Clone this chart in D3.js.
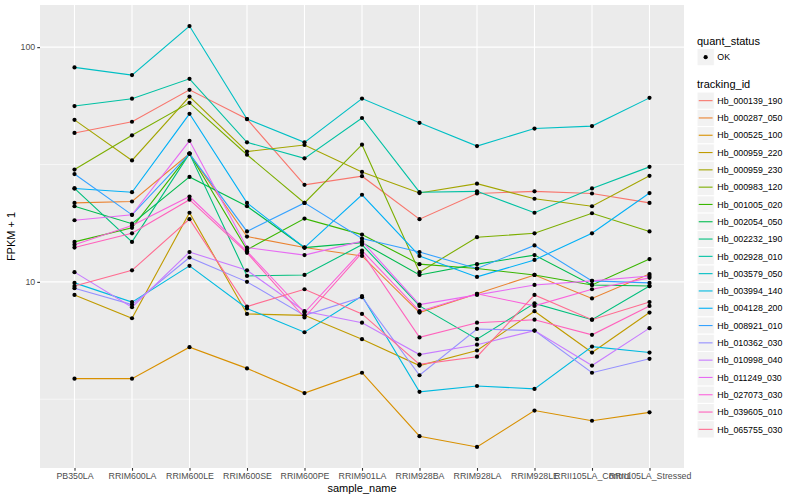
<!DOCTYPE html>
<html>
<head>
<meta charset="utf-8">
<script src="https://cdn.jsdelivr.net/npm/d3@7"></script>
<style>
  body { margin: 0; background: #fff; }
  text { font-family: "Liberation Sans", Arial, Helvetica, sans-serif; }
</style>
</head>
<body>
<script>
// samples on the x axis
var samples = ["PB350LA", "RRIM600LA", "RRIM600LE", "RRIM600SE", "RRIM600PE", "RRIM901LA",
               "RRIM928BA", "RRIM928LA", "RRIM928LE", "RRII105LA_Control", "RRII105LA_Stressed"];

// genes (legend order) and their ggplot hue colours
var trackingIds = ["Hb_000139_190", "Hb_000287_050", "Hb_000525_100", "Hb_000959_220", "Hb_000959_230",
                   "Hb_000983_120", "Hb_001005_020", "Hb_002054_050", "Hb_002232_190", "Hb_002928_010",
                   "Hb_003579_050", "Hb_003994_140", "Hb_004128_200", "Hb_008921_010", "Hb_010362_030",
                   "Hb_010998_040", "Hb_011249_030", "Hb_027073_030", "Hb_039605_010", "Hb_065755_030"];
var colors = ["#F8766D", "#EA8331", "#D89000", "#C09B00", "#A3A500", "#7CAE00", "#39B600", "#00BB4E",
              "#00BF7D", "#00C1A3", "#00BFC4", "#00BAE0", "#00B0F6", "#35A2FF", "#9590FF", "#C77CFF",
              "#E76BF3", "#FA62DB", "#FF62BC", "#FF6C91"];

// FPKM + 1, one value per sample
var hb_000139_190 = [43.1, 48.1, 65.8, 49.4, 25.9, 28.2, 18.5, 23.8, 24.3, 23.8, 21.7];
var hb_000287_050 = [21.7, 22.0, 35.2, 15.6, 14.0, 12.9, 7.4, 8.9, 10.7, 8.5, 10.8];
var hb_000525_100 = [3.87, 3.87, 5.27, 4.28, 3.36, 4.1, 2.2, 1.98, 2.83, 2.56, 2.78];
var hb_000959_220 = [8.8, 7.0, 19.7, 7.3, 7.2, 5.7, 4.4, 5.1, 7.5, 5.0, 7.4];
var hb_000959_230 = [49.0, 32.9, 61.6, 35.9, 38.3, 29.4, 23.9, 26.2, 22.6, 21.0, 28.3];
var hb_000983_120 = [30.1, 42.1, 57.9, 34.8, 21.7, 38.4, 11.0, 15.5, 16.1, 19.6, 16.4];
var hb_001005_020 = [14.8, 17.0, 35.2, 13.7, 18.6, 15.9, 11.9, 11.4, 10.7, 9.7, 12.5];
var hb_002054_050 = [21.0, 17.7, 28.0, 21.0, 14.0, 14.7, 10.7, 11.9, 13.0, 9.7, 9.6];
var hb_002232_190 = [25.0, 14.8, 35.2, 10.6, 10.7, 14.4, 7.9, 5.7, 8.1, 6.9, 9.6];
var hb_002928_010 = [56.1, 60.3, 73.3, 39.3, 33.6, 49.9, 24.1, 24.3, 19.7, 25.0, 30.9];
var hb_003579_050 = [82.0, 76.0, 123.0, 49.4, 39.3, 60.4, 47.6, 37.9, 45.0, 46.1, 60.8];
var hb_003994_140 = [9.9, 8.2, 11.7, 7.7, 6.1, 8.7, 3.4, 3.6, 3.5, 5.3, 5.0];
var hb_004128_200 = [25.0, 24.1, 52.0, 21.7, 14.0, 23.5, 12.9, 10.5, 12.4, 16.1, 23.9];
var hb_008921_010 = [28.8, 19.3, 35.2, 16.4, 21.7, 15.3, 13.4, 11.4, 14.3, 10.1, 9.9];
var hb_010362_030 = [9.4, 8.0, 12.7, 10.0, 7.2, 8.6, 4.0, 6.3, 6.2, 4.1, 4.7];
var hb_010998_040 = [11.0, 7.8, 13.4, 11.2, 7.5, 6.7, 4.9, 5.4, 6.2, 4.4, 6.35];
var hb_011249_030 = [18.3, 19.3, 39.9, 14.0, 13.0, 14.9, 8.0, 8.8, 9.7, 10.1, 10.6];
var hb_027073_030 = [14.4, 17.4, 23.1, 13.5, 7.4, 13.6, 7.5, 8.9, 7.9, 9.3, 10.4];
var hb_039605_010 = [14.0, 16.1, 22.4, 13.3, 7.05, 13.3, 5.8, 6.7, 6.9, 5.95, 7.9];
var hb_065755_030 = [9.6, 11.2, 18.5, 7.85, 9.3, 7.3, 4.45, 4.8, 8.8, 6.9, 8.2];

var seriesValues = [hb_000139_190, hb_000287_050, hb_000525_100, hb_000959_220, hb_000959_230,
                    hb_000983_120, hb_001005_020, hb_002054_050, hb_002232_190, hb_002928_010,
                    hb_003579_050, hb_003994_140, hb_004128_200, hb_008921_010, hb_010362_030,
                    hb_010998_040, hb_011249_030, hb_027073_030, hb_039605_010, hb_065755_030];

var yTicks = [10, 100];
var yMinor = [Math.sqrt(10), Math.sqrt(1000)];

var w = 800, h = 500;
var pLeft = 40, pRight = 684, pTop = 5, pBottom = 468;

var series = trackingIds.map(function(id, i) {
  return { id: id, color: colors[i],
           values: seriesValues[i].map(function(v, j) { return { sample: samples[j], v: v }; }) };
});

// log scale with ggplot's 5% expansion
var all = [].concat.apply([], seriesValues);
var lo = Math.log10(d3.min(all)), hi = Math.log10(d3.max(all));
var pad = (hi - lo) * 0.05;
var y = d3.scaleLog().domain([Math.pow(10, lo - pad), Math.pow(10, hi + pad)]).range([pBottom, pTop]);
var x = d3.scalePoint().domain(samples).range([pLeft, pRight]).padding(0.6);

var svg = d3.select("body").append("svg").attr("width", w).attr("height", h);
svg.append("rect").attr("width", w).attr("height", h).attr("fill", "#fff");

// panel
svg.append("rect").attr("x", pLeft).attr("y", pTop)
  .attr("width", pRight - pLeft).attr("height", pBottom - pTop).attr("fill", "#EBEBEB");

svg.append("g").selectAll("line").data(yMinor).enter().append("line")
  .attr("x1", pLeft).attr("x2", pRight)
  .attr("y1", function(d) { return y(d); }).attr("y2", function(d) { return y(d); })
  .attr("stroke", "#fff").attr("stroke-width", 0.55);
svg.append("g").selectAll("line").data(yTicks).enter().append("line")
  .attr("x1", pLeft).attr("x2", pRight)
  .attr("y1", function(d) { return y(d); }).attr("y2", function(d) { return y(d); })
  .attr("stroke", "#fff").attr("stroke-width", 1.1);
svg.append("g").selectAll("line").data(samples).enter().append("line")
  .attr("y1", pTop).attr("y2", pBottom)
  .attr("x1", function(d) { return x(d); }).attr("x2", function(d) { return x(d); })
  .attr("stroke", "#fff").attr("stroke-width", 1.1);

// lines
var line = d3.line().x(function(d) { return x(d.sample); }).y(function(d) { return y(d.v); });
svg.append("g").selectAll("path").data(series).enter().append("path")
  .attr("d", function(d) { return line(d.values); })
  .attr("fill", "none").attr("stroke", function(d) { return d.color; }).attr("stroke-width", 1.1);

// points
svg.append("g").selectAll("g").data(series).enter().append("g")
  .selectAll("circle").data(function(d) { return d.values; }).enter().append("circle")
  .attr("cx", function(d) { return x(d.sample); }).attr("cy", function(d) { return y(d.v); })
  .attr("r", 2.1).attr("fill", "#000");

// axes
var yAxis = svg.append("g").attr("transform", "translate(" + pLeft + ",0)")
  .call(d3.axisLeft(y).tickValues(yTicks).tickFormat(d3.format("d")).tickSize(2.75).tickPadding(2));
var xAxis = svg.append("g").attr("transform", "translate(0," + pBottom + ")")
  .call(d3.axisBottom(x).tickSize(2.75).tickPadding(2));
[yAxis, xAxis].forEach(function(a) {
  a.select(".domain").remove();
  a.selectAll(".tick line").attr("stroke", "#333").attr("stroke-width", 1.1);
  a.selectAll(".tick text").attr("fill", "#4D4D4D").style("font-size", "8.8px")
    .style("font-family", "'Liberation Sans', Arial, sans-serif");
});

svg.append("text").attr("x", (pLeft + pRight) / 2).attr("y", 492).attr("text-anchor", "middle")
  .style("font-size", "11px").attr("fill", "#000").text("sample_name");
svg.append("text").attr("transform", "translate(15," + (pTop + pBottom) / 2 + ") rotate(-90)")
  .attr("text-anchor", "middle").style("font-size", "11px").attr("fill", "#000").text("FPKM + 1");

// legends
var lx = 697, key = 17.3;
var leg = svg.append("g");
leg.append("text").attr("x", lx).attr("y", 44.5).style("font-size", "11px").text("quant_status");
leg.append("rect").attr("x", lx).attr("y", 48.5).attr("width", key).attr("height", key)
  .attr("fill", "#F2F2F2").attr("stroke", "#fff");
leg.append("circle").attr("cx", lx + key / 2).attr("cy", 48.5 + key / 2).attr("r", 2.1).attr("fill", "#000");
leg.append("text").attr("x", lx + key + 3).attr("y", 48.5 + key / 2 + 3.2)
  .style("font-size", "8.8px").text("OK");

leg.append("text").attr("x", lx).attr("y", 88).style("font-size", "11px").text("tracking_id");
var items = leg.selectAll(".item").data(series).enter().append("g").attr("class", "item")
  .attr("transform", function(d, i) { return "translate(" + lx + "," + (92 + i * key) + ")"; });
items.append("rect").attr("width", key).attr("height", key).attr("fill", "#F2F2F2").attr("stroke", "#fff");
items.append("line").attr("x1", key * 0.1).attr("x2", key * 0.9)
  .attr("y1", key / 2).attr("y2", key / 2)
  .attr("stroke", function(d) { return d.color; }).attr("stroke-width", 1.1);
items.append("text").attr("x", key + 3).attr("y", key / 2 + 3.2)
  .style("font-size", "8.8px").text(function(d) { return d.id; });
</script>
</body>
</html>
